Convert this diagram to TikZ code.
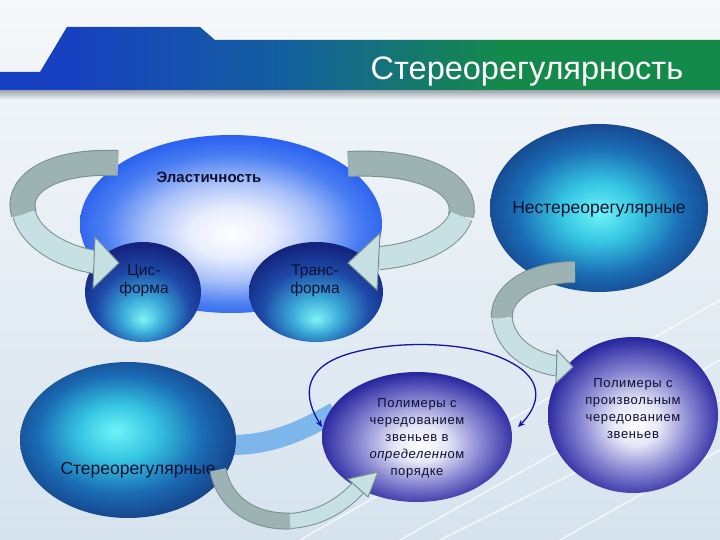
\documentclass[tikz,border=0pt]{standalone}
\usepackage{fontspec}
\setmainfont{Liberation Sans}
\usetikzlibrary{shapes.geometric,arrows.meta}
\definecolor{bgtop}{HTML}{F6F8FA}
\definecolor{bgbot}{HTML}{D6E3EE}
\definecolor{banA}{HTML}{03081E}
\definecolor{banA2}{HTML}{0A1E78}
\definecolor{banB}{HTML}{1741C0}
\definecolor{banC}{HTML}{14609E}
\definecolor{banD}{HTML}{148A4A}
\definecolor{banE}{HTML}{0E5C34}
\definecolor{elA}{HTML}{E8EDFD}
\definecolor{elB}{HTML}{A8C0F8}
\definecolor{elC}{HTML}{4A7EF2}
\definecolor{elD}{HTML}{1E56EE}
\definecolor{cyA}{HTML}{7FF2F6}
\definecolor{cyB}{HTML}{3AAAD8}
\definecolor{cyC}{HTML}{1E4AA8}
\definecolor{cyD}{HTML}{14237F}
\definecolor{nsA}{HTML}{6EF4F8}
\definecolor{nsB}{HTML}{35C4E2}
\definecolor{nsC}{HTML}{1A6CB4}
\definecolor{nsD}{HTML}{153E86}
\definecolor{nsE}{HTML}{0F2F6E}
\definecolor{puA}{HTML}{E6E6F6}
\definecolor{puB}{HTML}{8A88D2}
\definecolor{puC}{HTML}{2A28A0}
\definecolor{puD}{HTML}{16147E}
\definecolor{ribdark}{HTML}{9DB3B3}
\definecolor{riblight}{HTML}{C6E0E3}
\definecolor{ribedge}{HTML}{7A9090}
\definecolor{txt}{HTML}{0D1030}
\definecolor{arcblue}{HTML}{1414A6}
\definecolor{swoosh}{HTML}{7DB6EA}
\definecolor{shadowgray}{HTML}{9AA3AC}
\pgfdeclarehorizontalshading{banshade}{100bp}{color(0bp)=(banA); color(6bp)=(banA2); color(14bp)=(banB); color(30bp)=(banB); color(45bp)=(banC); color(60bp)=(banD); color(88bp)=(banD); color(100bp)=(banE)}
\pgfdeclareradialshading{elshade}{\pgfpoint{0bp}{-3bp}}{color(0bp)=(white); color(7bp)=(elA); color(14bp)=(elB); color(21bp)=(elC); color(28bp)=(elD); color(45bp)=(elD)}
\pgfdeclareradialshading{cyshade}{\pgfpoint{0bp}{-14bp}}{color(0bp)=(cyA); color(9bp)=(cyB); color(20bp)=(cyC); color(30bp)=(cyD); color(55bp)=(cyD)}
\pgfdeclareradialshading{nsshade}{\pgfpoint{0bp}{-1.5bp}}{color(0bp)=(nsA); color(9bp)=(nsB); color(19bp)=(nsC); color(28bp)=(nsD); color(34bp)=(nsE); color(50bp)=(nsE)}
\pgfdeclareradialshading{stshade}{\pgfpoint{-3bp}{3bp}}{color(0bp)=(nsA); color(9bp)=(nsB); color(19bp)=(nsC); color(28bp)=(nsD); color(34bp)=(nsE); color(50bp)=(nsE)}
\pgfdeclareradialshading{pushade}{\pgfpoint{1bp}{-3bp}}{color(0bp)=(white); color(7bp)=(puA); color(16bp)=(puB); color(26bp)=(puC); color(33bp)=(puD); color(50bp)=(puD)}
\begin{document}
\begin{tikzpicture}[x=1pt,y=-1pt,
  blob/.style={ellipse, inner sep=0pt, shade, shading=#1},
  lbl/.style={text=txt, align=center, inner sep=0pt},
  ribD/.style={draw=ribdark, line width=#1, preaction={draw=ribedge, line width=#1+2pt}},
  ribL/.style={draw=riblight, line width=#1, preaction={draw=ribedge, line width=#1+2pt}},
  ribhead/.style={fill=riblight, draw=ribedge, line width=1pt, line join=miter}]
\useasboundingbox (0,0) rectangle (720,540);
% background
\fill[top color=bgtop, bottom color=bgbot] (0,0) rectangle (720,540);
\foreach \a/\b/\c/\d in {400/540/720/360, 440/540/720/400, 560/540/720/450, 300/540/720/300}
  \draw[white, opacity=0.7, line width=1.5pt] (\a,\b) -- (\c,\d);
% banner
\fill[top color=shadowgray, bottom color=bgtop] (0,90) rectangle (720,100);
\shade[shading=banshade] (0,72) -- (40,72) -- (67,27) -- (200,27) -- (215,40) -- (720,40) -- (720,90) -- (0,90) -- cycle;
\node[text=white, font=\fontsize{32.5}{36}\selectfont, anchor=base] (title) at (527,80) {Стереорегулярность};
% background swoosh
\draw[swoosh, line width=20pt] (225,445) .. controls (270,446) and (300,432) .. (335,412);
% ellipses
\node[blob=elshade, minimum width=302pt, minimum height=178pt] (elast) at (231,224) {};
\node[blob=cyshade, minimum width=116pt, minimum height=100pt] (cis) at (143,292) {};
\node[blob=cyshade, minimum width=134pt, minimum height=100pt] (trans) at (316,292) {};
\node[blob=nsshade, minimum width=218pt, minimum height=168pt] (nester) at (599,208) {};
\node[blob=stshade, minimum width=216pt, minimum height=156pt] (ster) at (128,440) {};
\node[blob=pushade, minimum width=190pt, minimum height=130pt] (pord) at (417,437) {};
\node[blob=pushade, minimum width=170pt, minimum height=156pt] (pfree) at (633,415) {};
% labels
\node[lbl, font=\bfseries\fontsize{15}{17}\selectfont] (elastT) at (209,177) {Эластичность};
\node[lbl, font=\fontsize{15.5}{18}\selectfont] (cisT) at (144,281) {Цис-\\форма};
\node[lbl, font=\fontsize{15.5}{18}\selectfont] (transT) at (315,281) {Транс-\\форма};
\node[lbl, font=\fontsize{17.5}{20}\selectfont] (nesterT) at (599,209) {Нестереорегулярные};
\node[lbl, font=\fontsize{17.5}{20}\selectfont] (sterT) at (138,470) {Стереорегулярные};
\node[lbl, font=\fontsize{13}{17}\selectfont\addfontfeature{LetterSpace=5}] (pordT) at (417,438) {Полимеры с\\чередованием\\звеньев в\\\textit{определенн}ом\\порядке};
\node[lbl, font=\fontsize{13}{17}\selectfont\addfontfeature{LetterSpace=5}] (pfreeT) at (633,409) {Полимеры с\\произвольным\\чередованием\\звеньев};
% ribbon arrow: elasticity -> cis
\coordinate (la0) at (118,163);
\coordinate (la1) at (24,214);
\coordinate (la2) at (95,262);
\draw[ribD=24pt] (la0) .. controls (45,160) and (15,188) .. (la1);
\draw[ribL=22pt] (la1) .. controls (32,242) and (68,258) .. (la2);
\draw[ribhead] (95,237) -- (119,263) -- (93,288) -- cycle;
% ribbon arrow: elasticity -> trans
\coordinate (ra0) at (348,164);
\coordinate (ra1) at (461,216);
\coordinate (ra2) at (379,258);
\draw[ribD=24pt] (ra0) .. controls (430,160) and (468,188) .. (ra1);
\draw[ribL=22pt] (ra1) .. controls (452,242) and (410,256) .. (ra2);
\draw[ribhead] (380,233) -- (348,263) -- (377,290) -- cycle;
% ribbon arrow: nester -> pfree
\coordinate (na0) at (575,272);
\coordinate (na1) at (502,318);
\coordinate (na2) at (557,366);
\draw[ribD=20pt] (na0) .. controls (528,272) and (500,295) .. (na1);
\draw[ribL=19pt] (na1) .. controls (505,345) and (530,362) .. (na2);
\draw[ribhead] (557,350) -- (573,367) -- (556,383) -- cycle;
% ribbon arrow: ster -> pord
\coordinate (sa0) at (218,470);
\coordinate (sa1) at (290,521);
\coordinate (sa2) at (358,488);
\draw[ribD=15pt] (sa0) .. controls (225,505) and (255,522) .. (sa1);
\draw[ribL=14pt] (sa1) .. controls (320,519) and (342,505) .. (sa2);
\draw[ribhead] (348,479) -- (378,472) -- (368,497) -- cycle;
% blue double arc
\coordinate (bl0) at (322,427);
\coordinate (bl1) at (518,427);
\draw[arcblue, line width=1.3pt, {Stealth[length=7pt,width=6pt]}-{Stealth[length=7pt,width=6pt]}]
  (bl0) .. controls (305,400) and (300,370) .. (345,355) .. controls (390,340) and (470,340) .. (510,362) .. controls (545,380) and (540,405) .. (bl1);
\end{tikzpicture}
\end{document}
